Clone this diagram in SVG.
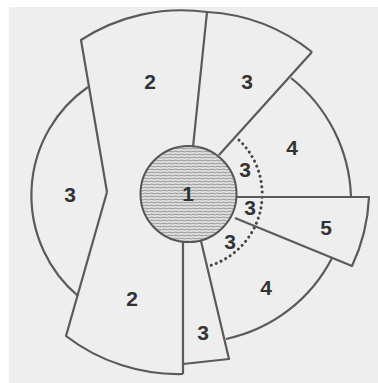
<svg xmlns="http://www.w3.org/2000/svg" width="378" height="383" viewBox="0 0 378 383">
<defs>
<pattern id="hatch" patternUnits="userSpaceOnUse" width="6" height="3">
<rect width="6" height="3" fill="#e2e2e2"/>
<path d="M0,1.5 Q1.5,0.8 3,1.5 T6,1.5" fill="none" stroke="#9c9c9c" stroke-width="1.1"/>
</pattern>
</defs>
<style>
.ln{fill:none;stroke:#5a5a5a;stroke-width:2.2;stroke-linejoin:round}
.dot{fill:none;stroke:#454545;stroke-width:3;stroke-linecap:round;stroke-dasharray:0.1 5.2}
.lb{font-family:"Liberation Sans",Arial,sans-serif;font-weight:bold;font-size:21px;fill:#333;text-anchor:middle}
</style>
<rect width="378" height="383" fill="#ffffff"/>
<rect x="9" y="7" width="369" height="376" fill="#eeeeee"/>
<g id="connectors">
<path class="ln" d="M193,147 L207,12"/>
<path class="ln" d="M219,155 L312,52"/>
<path class="ln" d="M183,242 L183,374"/>
<path class="ln" d="M201,241 L229,359 L183,364"/>
<path class="dot" d="M239,140 A75,75 0 0 1 209,266"/>
</g>
<g id="node-2-upper">
<path class="ln" d="M107,192 L81,40 A185,185 0 0 1 207,12"/>
<text class="lb" x="150" y="89">2</text>
</g>
<g id="node-2-lower">
<path class="ln" d="M183,374 A184,184 0 0 1 66,336 L107,192"/>
<text class="lb" x="132" y="306">2</text>
</g>
<g id="node-3-left">
<path class="ln" d="M88,87 A132,132 0 0 0 78,296"/>
<text class="lb" x="70" y="202">3</text>
</g>
<g id="node-3-top">
<path class="ln" d="M207,12 A185,185 0 0 1 312,52"/>
<text class="lb" x="247" y="89">3</text>
</g>
<g id="node-4-upper">
<path class="ln" d="M291,78 A158,158 0 0 1 351,197"/>
<text class="lb" x="292" y="155">4</text>
</g>
<g id="node-5">
<path class="ln" d="M236,197 L369,197 A180,180 0 0 1 352,266 L235,218"/>
<text class="lb" x="326" y="235">5</text>
</g>
<g id="node-4-lower">
<path class="ln" d="M332,258 A155,155 0 0 1 226,339"/>
<text class="lb" x="266" y="295">4</text>
</g>
<g id="node-3-bottom">
<text class="lb" x="203" y="340">3</text>
</g>
<g id="node-3-inner-a">
<text class="lb" x="245" y="177">3</text>
</g>
<g id="node-3-inner-b">
<text class="lb" x="250" y="215">3</text>
</g>
<g id="node-3-inner-c">
<text class="lb" x="230" y="249">3</text>
</g>
<g id="node-1">
<circle cx="188.5" cy="194" r="48" fill="url(#hatch)" stroke="#555" stroke-width="2"/>
<text class="lb" x="188" y="201">1</text>
</g>
</svg>
